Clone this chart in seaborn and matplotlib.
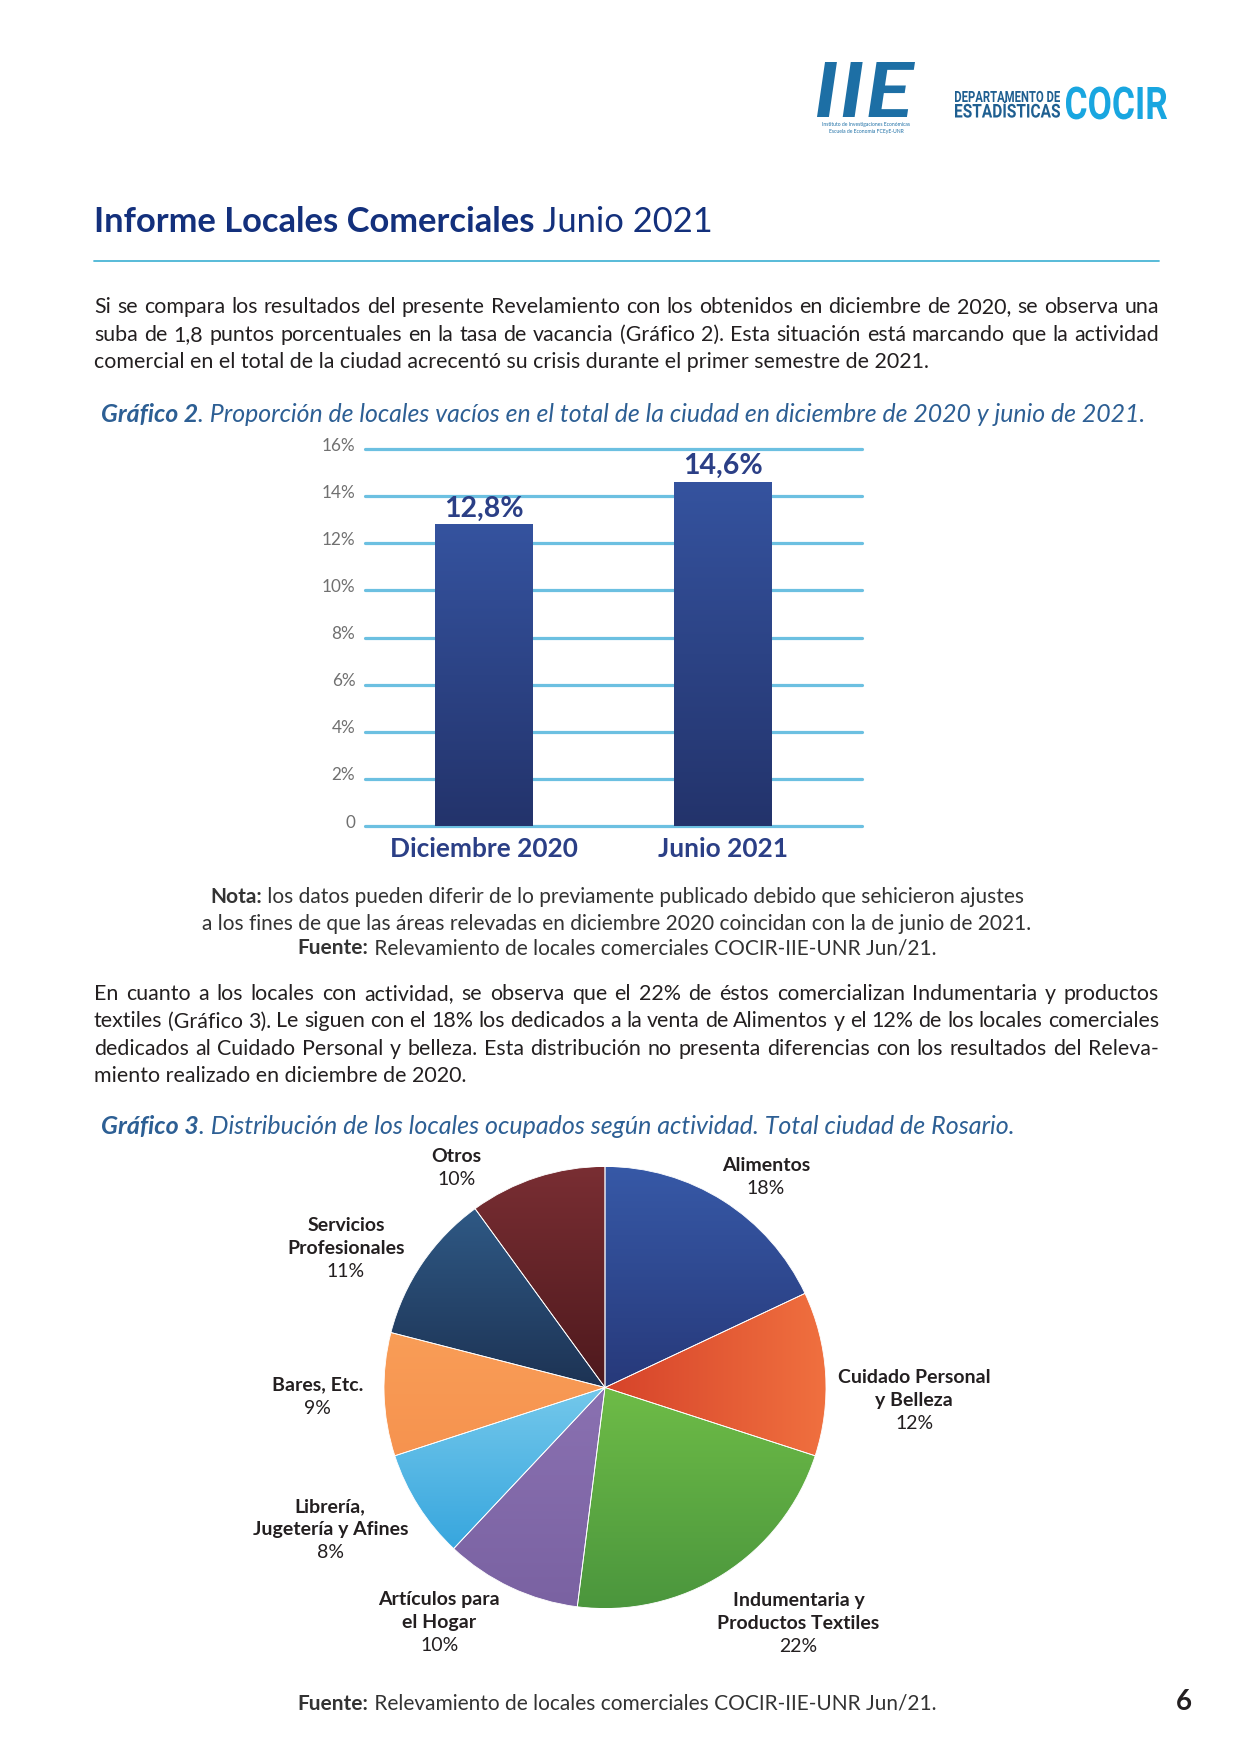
import numpy as np
import matplotlib
matplotlib.use("Agg")
import matplotlib.pyplot as plt
import matplotlib.transforms as mtransforms
from matplotlib.colors import LinearSegmentedColormap
from matplotlib.lines import Line2D
from matplotlib.textpath import TextPath
from matplotlib.patches import PathPatch
from matplotlib.font_manager import FontProperties
import seaborn as sns

W, H = 1241, 1754

# --- Gráfico 2: tasa de vacancia
periods = ["Diciembre 2020", "Junio 2021"]
vacancy = [12.8, 14.6]
vacancy_labels = ["12,8%", "14,6%"]
y_ticks = [0, 2, 4, 6, 8, 10, 12, 14, 16]
y_tick_labels = ["0", "2%", "4%", "6%", "8%", "10%", "12%", "14%", "16%"]

# --- Gráfico 3: distribución por actividad
activities = ["Alimentos", "Cuidado Personal\ny Belleza", "Indumentaria y\nProductos Textiles",
              "Artículos para\nel Hogar", "Librería,\nJugetería y Afines", "Bares, Etc.",
              "Servicios\nProfesionales", "Otros"]
shares = [18, 12, 22, 10, 8, 9, 11, 10]
share_labels = ["18%", "12%", "22%", "10%", "8%", "9%", "11%", "10%"]

# (light, dark) per wedge, gradient direction
wedge_colors = [("#3759a7", "#27397a"), ("#f0703f", "#d6432a"), ("#6ebc47", "#4b963d"),
                ("#8a71b1", "#7a62a2"), ("#74c8eb", "#37a6de"), ("#f99d57", "#f6934f"),
                ("#2f5985", "#1d3354"), ("#792e33", "#4e191d")]
wedge_dir = ["v", "h", "v", "v", "v", "v", "v", "v"]
label_dist = [1.2, 1.4, 1.38, 1.3, 1.4, 1.3, 1.33, 1.2]
label_shift = [5, 6, -7, 10, 5, 0, -6, -16]   # degrees, clockwise

para1 = ["Si se compara los resultados del presente Revelamiento con los obtenidos en diciembre de 2020, se observa una",
         "suba de 1,8 puntos porcentuales en la tasa de vacancia (Gráfico 2). Esta situación está marcando que la actividad",
         "comercial en el total de la ciudad acrecentó su crisis durante el primer semestre de 2021."]
para2 = ["En cuanto a los locales con actividad, se observa que el 22% de éstos comercializan Indumentaria y productos",
         "textiles (Gráfico 3). Le siguen con el 18% los dedicados a la venta de Alimentos y el 12% de los locales comerciales",
         "dedicados al Cuidado Personal y belleza. Esta distribución no presenta diferencias con los resultados del Releva-",
         "miento realizado en diciembre de 2020."]

sns.set_theme(style="white")
plt.rcParams["font.family"] = ["Lato", "DejaVu Sans"]

fig = plt.figure(figsize=(W / 100, H / 100), dpi=100)
renderer = fig.canvas.get_renderer()

TXT = "#231f20"
NAVY = "#13307c"
CAP = "#2d5f94"
LEFT, RIGHT = 94, 1159


def put(x, y, s, size, **kw):
    # y is the visual middle of the line in pixels from the top
    base = y + 0.36 * size * 100 / 72
    return fig.text(x / W, 1 - base / H, s, fontsize=size, va="baseline", **kw)


def runs(x, y, parts, size, color, ha="left"):
    texts = [put(0, y, s, size, color=color, **kw) for s, kw in parts]
    widths = [t.get_window_extent(renderer).width for t in texts]
    x0 = x - sum(widths) / 2 if ha == "center" else x
    for t, w in zip(texts, widths):
        t.set_x(x0 / W)
        x0 += w


def paragraph(lines, x0, x1, y0, lh, size):
    for i, line in enumerate(lines):
        y = y0 + i * lh
        if i == len(lines) - 1:
            put(x0, y, line, size, color=TXT)
            continue
        words = line.split()
        texts = [put(0, y, w, size, color=TXT) for w in words]
        widths = [t.get_window_extent(renderer).width for t in texts]
        gap = (x1 - x0 - sum(widths)) / (len(words) - 1)
        x = x0
        for t, w in zip(texts, widths):
            t.set_x(x / W)
            x += w + gap


def fit_text(s, x0, x1, top, base, color, **fp):
    # squeeze a word into a box (for the condensed logo lettering)
    prop = FontProperties(**fp)
    tp = TextPath((0, 0), s, size=100, prop=prop)
    cap = TextPath((0, 0), "H", size=100, prop=prop).get_extents().height
    ext = tp.get_extents()
    sx = (x1 - x0) / ext.width
    sy = (base - top) / cap
    tr = mtransforms.Affine2D().scale(sx, sy).translate(x0 - ext.x0 * sx, H - base)
    fig.add_artist(PathPatch(tr.transform_path(tp), facecolor=color, edgecolor="none",
                             transform=mtransforms.IdentityTransform()))


# header / logos
fit_text("IIE", 817, 915, 62, 117, "#1d6fa5", family="Lato", weight="bold", style="italic")
put(866, 124, "Instituto de Investigaciones Económicas", 3.6, color="#1d6fa5", ha="center")
put(866, 131, "Escuela de Economía FCEyE-UNR", 3.6, color="#1d6fa5", ha="center")
fit_text("DEPARTAMENTO DE", 955, 1060, 91, 102, "#1f5f91", family="Roboto", weight="bold")
fit_text("ESTADÍSTICAS", 955, 1060, 104, 117.5, "#1f5f91", family="Roboto", weight="bold")
fit_text("COCIR", 1066, 1167, 87, 119, "#19a6e0", family="Roboto", weight="bold")

runs(LEFT, 220, [("Informe Locales Comerciales", {"fontweight": "bold"}), (" Junio 2021", {})], 24.8, NAVY)
fig.add_artist(Line2D([LEFT / W, RIGHT / W], [1 - 261 / H] * 2, color="#4ab5d6", lw=1.3))

paragraph(para1, LEFT, RIGHT, 305.5, 27.4, 15.4)
runs(101, 413, [("Gráfico 2", {"fontweight": "bold", "style": "italic"}),
                (". Proporción de locales vacíos en el total de la ciudad en diciembre de 2020 y junio de 2021.",
                 {"style": "italic"})], 17.9, CAP)

# bar chart
ax = fig.add_axes([365 / W, 1 - 826 / H, 497 / W, 377 / H])
sns.barplot(x=periods, y=vacancy, color="#2c4488", width=0.41, ax=ax, zorder=3)
bar_cmap = LinearSegmentedColormap.from_list("bar", ["#23336b", "#35539f"])
for patch in ax.patches:
    bb = patch.get_bbox()
    im = ax.imshow(np.linspace(0, 1, 256).reshape(-1, 1), extent=[bb.x0, bb.x1, bb.y0, bb.y1],
                   cmap=bar_cmap, aspect="auto", origin="lower", zorder=3)
    im.set_clip_path(patch)
    patch.set_facecolor("none")
    patch.set_edgecolor("none")
ax.set_xlim(-0.5, 1.585)
ax.set_ylim(0, 16)
ax.set_yticks(y_ticks)
ax.set_yticklabels(y_tick_labels)
ax.yaxis.grid(True, color="#6cc0e1", lw=2.3)
ax.set_axisbelow(True)
for gl in ax.get_ygridlines():
    gl.set_clip_on(False)
for sp in ax.spines.values():
    sp.set_visible(False)
ax.set_xlabel("")
ax.set_ylabel("")
ax.tick_params(axis="y", length=0, pad=7, labelsize=12.3, labelcolor="#707070")
ax.tick_params(axis="x", length=0, pad=8, labelsize=18.9, labelcolor="#2b3f86")
for lbl in ax.get_xticklabels():
    lbl.set_fontweight("bold")
offset = mtransforms.ScaledTranslation(0, 5 / 100, fig.dpi_scale_trans)
for lbl in ax.get_yticklabels():
    lbl.set_transform(lbl.get_transform() + offset)
ax.bar_label(ax.containers[0], labels=vacancy_labels, padding=2, fontsize=20.5,
             fontweight="bold", color="#2b3f86")

runs(617, 896, [("Nota:", {"fontweight": "bold"}),
                (" los datos pueden diferir de lo previamente publicado debido que sehicieron ajustes", {})],
     15, "#333333", ha="center")
runs(617, 922, [("a los fines de que las áreas relevadas en diciembre 2020 coincidan con la de junio de 2021.", {})],
     15, "#333333", ha="center")
runs(617, 947, [("Fuente:", {"fontweight": "bold"}),
                (" Relevamiento de locales comerciales COCIR-IIE-UNR Jun/21.", {})], 15, "#333333", ha="center")

paragraph(para2, LEFT, RIGHT, 992.5, 27.2, 15.4)
runs(101, 1125, [("Gráfico 3", {"fontweight": "bold", "style": "italic"}),
                 (". Distribución de los locales ocupados según actividad. Total ciudad de Rosario.",
                  {"style": "italic"})], 18, CAP)

# pie chart
R = 221
pax = fig.add_axes([(605 - R) / W, 1 - (1387.5 + R) / H, 2 * R / W, 2 * R / H])
wedges, _ = pax.pie(shares, startangle=90, counterclock=False, radius=1,
                    wedgeprops=dict(edgecolor="white", linewidth=0.6))
for w, (light, dark), d in zip(wedges, wedge_colors, wedge_dir):
    th = np.radians(np.linspace(w.theta1, w.theta2, 60))
    xs = np.concatenate([[0], np.cos(th)])
    ys = np.concatenate([[0], np.sin(th)])
    grad = np.linspace(0, 1, 256).reshape(-1, 1) if d == "v" else np.linspace(0, 1, 256).reshape(1, -1)
    cmap = LinearSegmentedColormap.from_list("w", [dark, light])
    im = pax.imshow(grad, extent=[xs.min(), xs.max(), ys.min(), ys.max()], cmap=cmap,
                    aspect="auto", origin="lower", zorder=1)
    im.set_clip_path(w)
    w.set_facecolor("none")
    w.set_zorder(2)
pax.set_xlim(-1, 1)
pax.set_ylim(-1, 1)
pax.set_aspect("equal")
pax.axis("off")

lh = 23 / R
for w, name, pct, dist, shift in zip(wedges, activities, share_labels, label_dist, label_shift):
    ang = np.radians((w.theta1 + w.theta2) / 2 - shift)
    cx, cy = dist * np.cos(ang), dist * np.sin(ang)
    lines = name.split("\n") + [pct]
    n = len(lines)
    for i, line in enumerate(lines):
        yy = cy + ((n - 1) / 2 - i) * lh
        pax.text(cx, yy, line, ha="center", va="center", fontsize=14, color=TXT,
                 fontweight="bold" if i < n - 1 else "normal")

runs(617, 1702, [("Fuente:", {"fontweight": "bold"}),
                 (" Relevamiento de locales comerciales COCIR-IIE-UNR Jun/21.", {})], 15, "#333333", ha="center")
put(1184, 1700, "6", 20, color=TXT, fontweight="bold", ha="center")

fig.savefig("out.png", dpi=100)
